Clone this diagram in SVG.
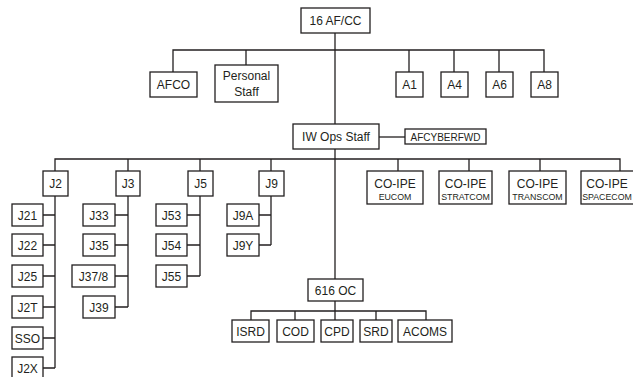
<svg xmlns="http://www.w3.org/2000/svg" width="633" height="377" viewBox="0 0 633 377">
<style>
  rect { fill: #fff; stroke: #231f20; stroke-width: 1.3; }
  .c { fill: none; stroke: #231f20; stroke-width: 1.3; }
  text { font-family: "Liberation Sans", Arial, sans-serif; font-size: 12px; fill: #231f20; text-anchor: middle; }
  .s { font-size: 8.8px; }
  .m { font-size: 10px; }
</style>
<rect x="0" y="0" width="633" height="377" style="fill:#fff;stroke:none"/>
<g id="connectors">
  <path class="c" d="M335 33V279"/>
  <path class="c" d="M173 72V50H544V72M246 50V65M409 50V72M454 50V72M499 50V72"/>
  <path class="c" d="M379 137H405"/>
  <path class="c" d="M55 171V159H620V171M128 159V171M200 159V171M271 159V171M398 159V171M469 159V171M540 159V171"/>
  <path class="c" d="M55 196V368M43 215H55M43 245H55M43 276H55M43 307H55M43 338H55M43 368H55"/>
  <path class="c" d="M128 196V307M115 215H128M115 245H128M115 276H128M115 307H128"/>
  <path class="c" d="M200 196V276M187 215H200M187 245H200M187 276H200"/>
  <path class="c" d="M271 196V245M259 215H271M259 245H271"/>
  <path class="c" d="M335 301V320M251 320V311H426V320M295 311V320M376 311V320"/>
</g>
<g id="n-16afcc"><rect x="301" y="8" width="69" height="25"/><text x="335.5" y="25">16 AF/CC</text></g>
<g id="n-afco"><rect x="150" y="72" width="47" height="25"/><text x="173.5" y="89">AFCO</text></g>
<g id="n-personal"><rect x="215" y="65" width="63" height="37"/><text x="246.5" y="80">Personal</text><text x="246.5" y="96">Staff</text></g>
<g id="n-a1"><rect x="396" y="72" width="27" height="25"/><text x="409.5" y="89">A1</text></g>
<g id="n-a4"><rect x="441" y="72" width="27" height="25"/><text x="454.5" y="89">A4</text></g>
<g id="n-a6"><rect x="486" y="72" width="27" height="25"/><text x="499.5" y="89">A6</text></g>
<g id="n-a8"><rect x="531" y="72" width="27" height="25"/><text x="544.5" y="89">A8</text></g>
<g id="n-iwops"><rect x="293" y="124" width="86" height="25"/><text x="336" y="141">IW Ops Staff</text></g>
<g id="n-afcyberfwd"><rect x="405" y="129" width="81" height="15"/><text class="m" x="445.5" y="140.5">AFCYBERFWD</text></g>
<g id="n-j2"><rect x="43" y="171" width="25" height="25"/><text x="55.5" y="188">J2</text></g>
<g id="n-j3"><rect x="116" y="171" width="24" height="25"/><text x="128" y="188">J3</text></g>
<g id="n-j5"><rect x="188" y="171" width="25" height="25"/><text x="200.5" y="188">J5</text></g>
<g id="n-j9"><rect x="259" y="171" width="25" height="25"/><text x="271.5" y="188">J9</text></g>
<g id="n-eucom"><rect x="367" y="171" width="56" height="33"/><text x="395" y="188">CO-IPE</text><text class="s" x="395" y="200">EUCOM</text></g>
<g id="n-stratcom"><rect x="439" y="171" width="53" height="33"/><text x="465.5" y="188">CO-IPE</text><text class="s" x="465.5" y="200">STRATCOM</text></g>
<g id="n-transcom"><rect x="509" y="171" width="57" height="33"/><text x="537.5" y="188">CO-IPE</text><text class="s" x="537.5" y="200">TRANSCOM</text></g>
<g id="n-spacecom"><rect x="581" y="171" width="56" height="33"/><text x="607" y="188">CO-IPE</text><text class="s" x="607" y="200">SPACECOM</text></g>
<g id="n-j21"><rect x="12" y="204" width="31" height="22"/><text x="27.5" y="219.5">J21</text></g>
<g id="n-j22"><rect x="12" y="234" width="31" height="22"/><text x="27.5" y="249.5">J22</text></g>
<g id="n-j25"><rect x="12" y="265" width="31" height="22"/><text x="27.5" y="280.5">J25</text></g>
<g id="n-j2t"><rect x="12" y="296" width="31" height="22"/><text x="27.5" y="311.5">J2T</text></g>
<g id="n-sso"><rect x="12" y="327" width="31" height="22"/><text x="27.5" y="342.5">SSO</text></g>
<g id="n-j2x"><rect x="12" y="357" width="31" height="22"/><text x="27.5" y="372.5">J2X</text></g>
<g id="n-j33"><rect x="83" y="204" width="32" height="22"/><text x="99" y="219.5">J33</text></g>
<g id="n-j35"><rect x="83" y="234" width="32" height="22"/><text x="99" y="249.5">J35</text></g>
<g id="n-j378"><rect x="72" y="265" width="43" height="22"/><text x="93.5" y="280.5">J37/8</text></g>
<g id="n-j39"><rect x="83" y="296" width="32" height="22"/><text x="99" y="311.5">J39</text></g>
<g id="n-j53"><rect x="156" y="204" width="31" height="22"/><text x="171.5" y="219.5">J53</text></g>
<g id="n-j54"><rect x="156" y="234" width="31" height="22"/><text x="171.5" y="249.5">J54</text></g>
<g id="n-j55"><rect x="156" y="265" width="31" height="22"/><text x="171.5" y="280.5">J55</text></g>
<g id="n-j9a"><rect x="227" y="204" width="32" height="22"/><text x="243" y="219.5">J9A</text></g>
<g id="n-j9y"><rect x="227" y="234" width="32" height="22"/><text x="243" y="249.5">J9Y</text></g>
<g id="n-616oc"><rect x="308" y="279" width="55" height="22"/><text x="335.5" y="294.5">616 OC</text></g>
<g id="n-isrd"><rect x="232" y="320" width="37" height="22"/><text x="250.5" y="335.5">ISRD</text></g>
<g id="n-cod"><rect x="277" y="320" width="37" height="22"/><text x="295.5" y="335.5">COD</text></g>
<g id="n-cpd"><rect x="321" y="320" width="32" height="22"/><text x="337" y="335.5">CPD</text></g>
<g id="n-srd"><rect x="360" y="320" width="32" height="22"/><text x="376" y="335.5">SRD</text></g>
<g id="n-acoms"><rect x="398" y="320" width="54" height="22"/><text x="425" y="335.5">ACOMS</text></g>
</svg>
